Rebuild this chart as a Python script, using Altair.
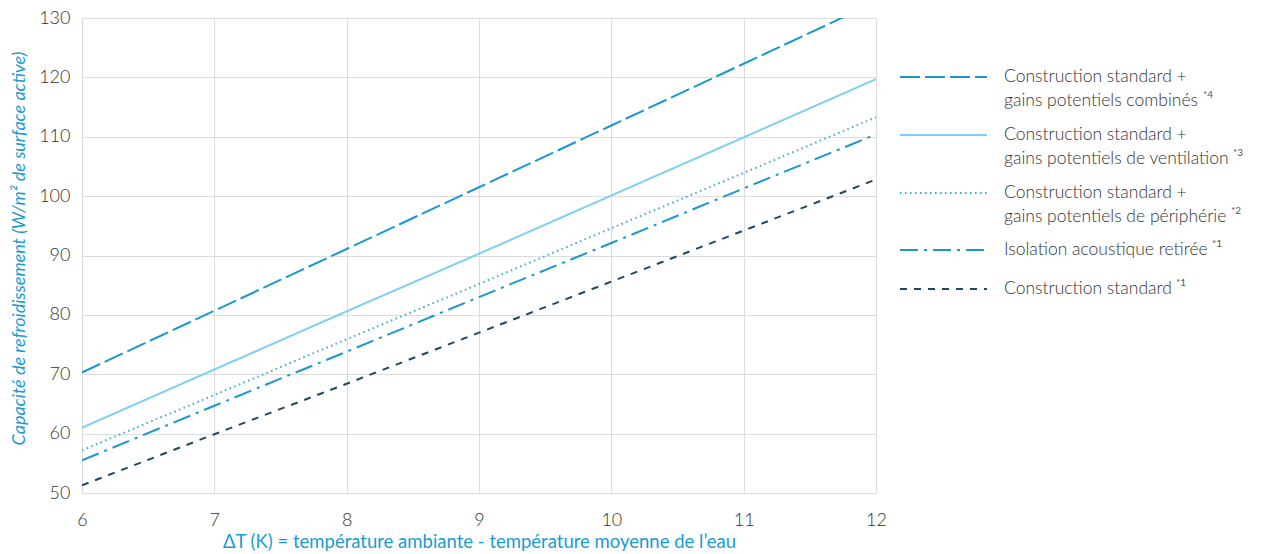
import altair as alt
import pandas as pd

# ---- data ----
x_vals = [6, 7, 8, 9, 10, 11, 12]
combines = [70.3, 80.7, 91.1, 101.5, 111.9, 122.3, 132.7]
ventilation = [61.0, 70.8, 80.6, 90.3, 100.1, 109.9, 119.7]
peripherie = [57.2, 66.5, 75.9, 85.2, 94.6, 103.9, 113.3]
isolation = [55.5, 64.7, 73.8, 83.0, 92.1, 101.3, 110.4]
standard = [51.3, 59.9, 68.4, 77.0, 85.6, 94.2, 102.8]

series_names = ["combines", "ventilation", "peripherie", "isolation", "standard"]
series_values = [combines, ventilation, peripherie, isolation, standard]
series_colors = ["#1a98cf", "#7fcff4", "#3aa6d9", "#1b97ce", "#1d4868"]
series_dash = [[20, 5], [1, 0], [1.5, 3.5], [18, 6, 3, 6], [7, 7]]

legend_line1 = ["Construction standard +", "Construction standard +",
                "Construction standard +", "Isolation acoustique retirée",
                "Construction standard"]
legend_line2 = ["gains potentiels combinés", "gains potentiels de ventilation",
                "gains potentiels de périphérie", "", ""]
legend_sup = ["*4", "*3", "*2", "*1", "*1"]

W, H = 794, 475
FONT = "Lato"
FW = 300
TXT = "#333333"
BLUE = "#1a9bd1"

rows = []
for name, vals in zip(series_names, series_values):
    for x, y in zip(x_vals, vals):
        rows.append({"serie": name, "x": x, "y": y})
df = pd.DataFrame(rows)

xs = alt.X("x:Q", scale=alt.Scale(domain=[6, 12], nice=False),
           axis=alt.Axis(values=[6, 7, 8, 9, 10, 11, 12], format="d",
                         title="ΔT (K) = température ambiante - température moyenne de l’eau",
                         titleColor=BLUE, titleFont=FONT, titleFontSize=18.5,
                         titleFontWeight="normal", titlePadding=3,
                         labelFont=FONT, labelFontSize=18, labelFontWeight=FW,
                         labelColor=TXT, labelPadding=18, ticks=False, domain=False,
                         gridColor="#dcdcdc", labelFlush=False))
ys = alt.Y("y:Q", scale=alt.Scale(domain=[50, 130], nice=False),
           axis=alt.Axis(values=list(range(50, 131, 10)),
                         title="Capacité de refroidissement (W/m² de surface active)",
                         titleColor=BLUE, titleFont=FONT, titleFontSize=18,
                         titleFontStyle="italic", titleFontWeight="normal",
                         titlePadding=10, titleY=230,
                         labelFont=FONT, labelFontSize=18, labelFontWeight=FW,
                         labelColor=TXT, labelPadding=12, ticks=False, domain=False,
                         gridColor="#dcdcdc"))

layers = []
for name, col, dash in zip(series_names, series_colors, series_dash):
    layers.append(
        alt.Chart(df).transform_filter(alt.datum.serie == name)
        .mark_line(color=col, strokeWidth=2, strokeDash=dash, clip=True)
        .encode(x=xs, y=ys)
    )

# legend (drawn in pixel space to the right of the plot)
leg_y0 = 59
leg_steps = [0, 58, 116, 173, 212]
leg_rows = []
for i, name in enumerate(series_names):
    leg_rows.append({"serie": name, "ly": leg_y0 + leg_steps[i],
                     "lx1": 818, "lx2": 905, "tx": 922,
                     "t1": legend_line1[i], "t2": legend_line2[i],
                     "sup": legend_sup[i]})
leg = pd.DataFrame(leg_rows)
# superscript placement (after the last text line of each entry)
sup_pos = [(1121, 18), (1151, 18), (1149, 18), (1130, -6), (1094, -6)]
leg["sx"] = [p[0] for p in sup_pos]
leg["sy"] = [r + p[1] for r, p in zip(leg["ly"], sup_pos)]

for i, (name, col, dash) in enumerate(zip(series_names, series_colors, series_dash)):
    sub = leg[leg.serie == name]
    layers.append(
        alt.Chart(sub).mark_rule(color=col, strokeWidth=2, strokeDash=dash)
        .encode(x=alt.X("lx1:Q", scale=None), x2="lx2:Q", y=alt.Y("ly:Q", scale=None))
    )

layers.append(
    alt.Chart(leg).mark_text(align="left", baseline="middle", font=FONT,
                             fontSize=17.5, fontWeight=FW, color=TXT)
    .encode(x=alt.X("tx:Q", scale=None), y=alt.Y("ly:Q", scale=None), text="t1:N")
)
layers.append(
    alt.Chart(leg).transform_filter(alt.datum.t2 != "")
    .mark_text(align="left", baseline="middle", font=FONT, fontSize=17.5,
               fontWeight=FW, color=TXT, dy=24)
    .encode(x=alt.X("tx:Q", scale=None), y=alt.Y("ly:Q", scale=None), text="t2:N")
)
layers.append(
    alt.Chart(leg).mark_text(align="left", baseline="middle", font=FONT,
                             fontSize=10, fontWeight="normal", color="#555555")
    .encode(x=alt.X("sx:Q", scale=None), y=alt.Y("sy:Q", scale=None), text="sup:N")
)

chart = alt.layer(*layers).properties(
    width=W, height=H,
    autosize=alt.AutoSizeParams(type="none"),
    padding={"left": 74, "top": 10, "right": 370, "bottom": 60},
).configure_view(stroke="#dcdcdc", strokeWidth=1).configure(background="white")

chart.save("out.html", embed_options={"renderer": "svg", "actions": False})
